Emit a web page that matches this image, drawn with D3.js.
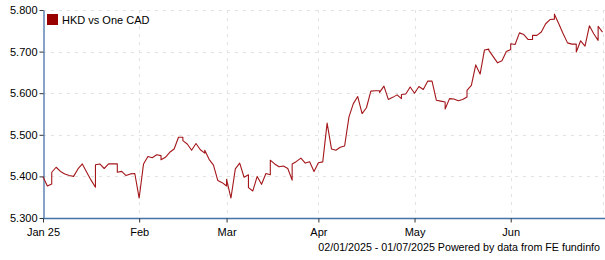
<!DOCTYPE html>
<html>
<head>
<meta charset="utf-8">
<script src="https://cdn.jsdelivr.net/npm/d3@7"></script>
<style>
  html, body { margin: 0; padding: 0; background: #fff; }
  svg { display: block; font-family: "Liberation Sans", Arial, sans-serif; }
</style>
</head>
<body>
<div id="chart"></div>
<script>
// HKD per one CAD, one close per weekday, split by month
const janRates = [5.399, 5.377, 5.410, 5.422, 5.412, 5.406, 5.402, 5.400, 5.418, 5.430, 5.410,
                  5.391, 5.428, 5.430, 5.419, 5.430, 5.430, 5.410, 5.412, 5.402, 5.406, 5.407];
const febRates = [5.348, 5.430, 5.448, 5.445, 5.452, 5.440, 5.446, 5.458, 5.466, 5.494,
                  5.486, 5.478, 5.463, 5.479, 5.464, 5.463, 5.441, 5.427, 5.390, 5.385];
const marRates = [5.393, 5.348, 5.418, 5.432, 5.398, 5.373, 5.365, 5.400, 5.381, 5.407, 5.439,
                  5.430, 5.423, 5.425, 5.419, 5.430, 5.436, 5.444, 5.432, 5.435, 5.412];
const aprRates = [5.433, 5.435, 5.528, 5.466, 5.463, 5.470, 5.473, 5.543, 5.575, 5.592, 5.551,
                  5.565, 5.605, 5.606, 5.602, 5.617, 5.585, 5.590, 5.596, 5.597, 5.598, 5.615];
const mayRates = [5.600, 5.616, 5.609, 5.629, 5.629, 5.583, 5.581, 5.562, 5.587, 5.586, 5.582,
                  5.585, 5.607, 5.619, 5.668, 5.646, 5.704, 5.703, 5.688, 5.673, 5.678, 5.700];
const junRates = [5.719, 5.717, 5.745, 5.741, 5.729, 5.739, 5.739, 5.747, 5.767, 5.777, 5.790,
                  5.767, 5.743, 5.721, 5.718, 5.699, 5.726, 5.713, 5.762, 5.743, 5.761];
const julRates = [5.747];

// weekend quotes, drawn on the following trading day
const weekendDates = ["2025-01-05", "2025-01-19", "2025-01-26", "2025-02-09", "2025-02-16", "2025-02-23",
                      "2025-03-02", "2025-03-09", "2025-03-16", "2025-03-23", "2025-04-20", "2025-04-27",
                      "2025-05-11", "2025-05-18", "2025-05-25", "2025-06-01", "2025-06-08", "2025-06-15",
                      "2025-06-22", "2025-06-29"];
const weekendRates = [5.382, 5.374, 5.430, 5.450, 5.494, 5.456,
                      5.377, 5.404, 5.404, 5.391, 5.606, 5.587,
                      5.579, 5.591, 5.706, 5.705, 5.729, 5.778,
                      5.718, 5.727];

const startDate = "2025-01-02";
const endDate = "2025-07-01";
const tickDates = ["2025-01-02", "2025-02-03", "2025-03-03", "2025-04-01", "2025-05-01", "2025-06-02"];
const tickLabels = ["Jan 25", "Feb", "Mar", "Apr", "May", "Jun"];
const yTicks = [5.3, 5.4, 5.5, 5.6, 5.7, 5.8];
const seriesName = "HKD vs One CAD";
const footerText = "02/01/2025 - 01/07/2025 Powered by data from FE fundinfo";

const width = 605, height = 260;
const margin = {top: 10, right: 2.5, bottom: 42, left: 43};
const axisColor = "#4572a7";
const lineColor = "#a3161a";

const parse = d3.utcParse("%Y-%m-%d");

// trading days (weekdays only) make up the x axis
const tradingDays = d3.utcDay.range(parse(startDate), d3.utcDay.offset(parse(endDate), 1))
  .filter(d => d.getUTCDay() !== 0 && d.getUTCDay() !== 6);
const dayIndex = date => d3.bisectLeft(tradingDays.map(d => +d), +date);

const allRates = [].concat(janRates, febRates, marRates, aprRates, mayRates, junRates, julRates);
let points = tradingDays.map((d, i) => ({date: d, value: allRates[i]}));
weekendDates.forEach((s, i) => points.push({date: parse(s), value: weekendRates[i]}));
points.sort((a, b) => a.date - b.date);

const svg = d3.select("#chart").append("svg")
  .attr("width", width)
  .attr("height", height);

const x = d3.scaleLinear()
  .domain([0, tradingDays.length - 1])
  .range([margin.left, width - margin.right]);

const y = d3.scaleLinear()
  .domain([5.3, 5.8])
  .range([height - margin.bottom, margin.top]);

const tickIdx = tickDates.map(s => dayIndex(parse(s)));

//Gridlines
const grid = svg.append("g")
  .attr("stroke", "#e2e2e2")
  .attr("stroke-dasharray", "3,5")
  .attr("shape-rendering", "crispEdges");

grid.selectAll(".hgrid")
  .data(yTicks.slice(1))
  .enter()
  .append("line")
  .attr("x1", margin.left)
  .attr("x2", width)
  .attr("y1", d => Math.round(y(d)) + 0.5)
  .attr("y2", d => Math.round(y(d)) + 0.5);

grid.selectAll(".vgrid")
  .data(tickIdx.slice(1).concat([tradingDays.length - 1]))
  .enter()
  .append("line")
  .attr("x1", d => Math.round(x(d)) + 0.5)
  .attr("x2", d => Math.round(x(d)) + 0.5)
  .attr("y1", margin.top)
  .attr("y2", height - margin.bottom);

//Axes
const yAxis = svg.append("g")
  .attr("transform", "translate(" + (margin.left + 0.5) + ",0)")
  .call(d3.axisLeft(y).tickValues(yTicks).tickFormat(d3.format(".3f")).tickSize(4).tickSizeOuter(0));

const xAxis = svg.append("g")
  .attr("transform", "translate(0," + (height - margin.bottom + 0.5) + ")")
  .call(d3.axisBottom(x).tickValues(tickIdx).tickFormat((d, i) => tickLabels[i]).tickSize(4).tickSizeOuter(0));

xAxis.select(".domain").attr("d", "M" + margin.left + ",0H" + width);

[yAxis, xAxis].forEach(ax => {
  ax.select(".domain").attr("stroke", axisColor).attr("stroke-width", 1.3);
  ax.selectAll(".tick line").attr("stroke", "#333");
  ax.selectAll(".tick text")
    .attr("fill", "#000")
    .style("font-family", "'Liberation Sans', Arial, sans-serif")
    .style("font-size", "11px");
});
yAxis.selectAll(".tick text").attr("x", -6);
xAxis.selectAll(".tick text").attr("y", 10);

//The series line
const line = d3.line()
  .x(d => x(dayIndex(d.date)))
  .y(d => y(d.value));

svg.append("path")
  .datum(points)
  .attr("fill", "none")
  .attr("stroke", lineColor)
  .attr("stroke-width", 1.1)
  .attr("stroke-linejoin", "round")
  .attr("d", line);

//Legend
svg.append("rect")
  .attr("x", 47)
  .attr("y", 14)
  .attr("width", 11)
  .attr("height", 11)
  .attr("fill", "#990000");

svg.append("text")
  .attr("x", 62)
  .attr("y", 23.5)
  .attr("font-size", 11)
  .text(seriesName);

//Footer
svg.append("text")
  .attr("x", 600)
  .attr("y", 251)
  .attr("text-anchor", "end")
  .attr("font-size", 10.7)
  .text(footerText);
</script>
</body>
</html>
